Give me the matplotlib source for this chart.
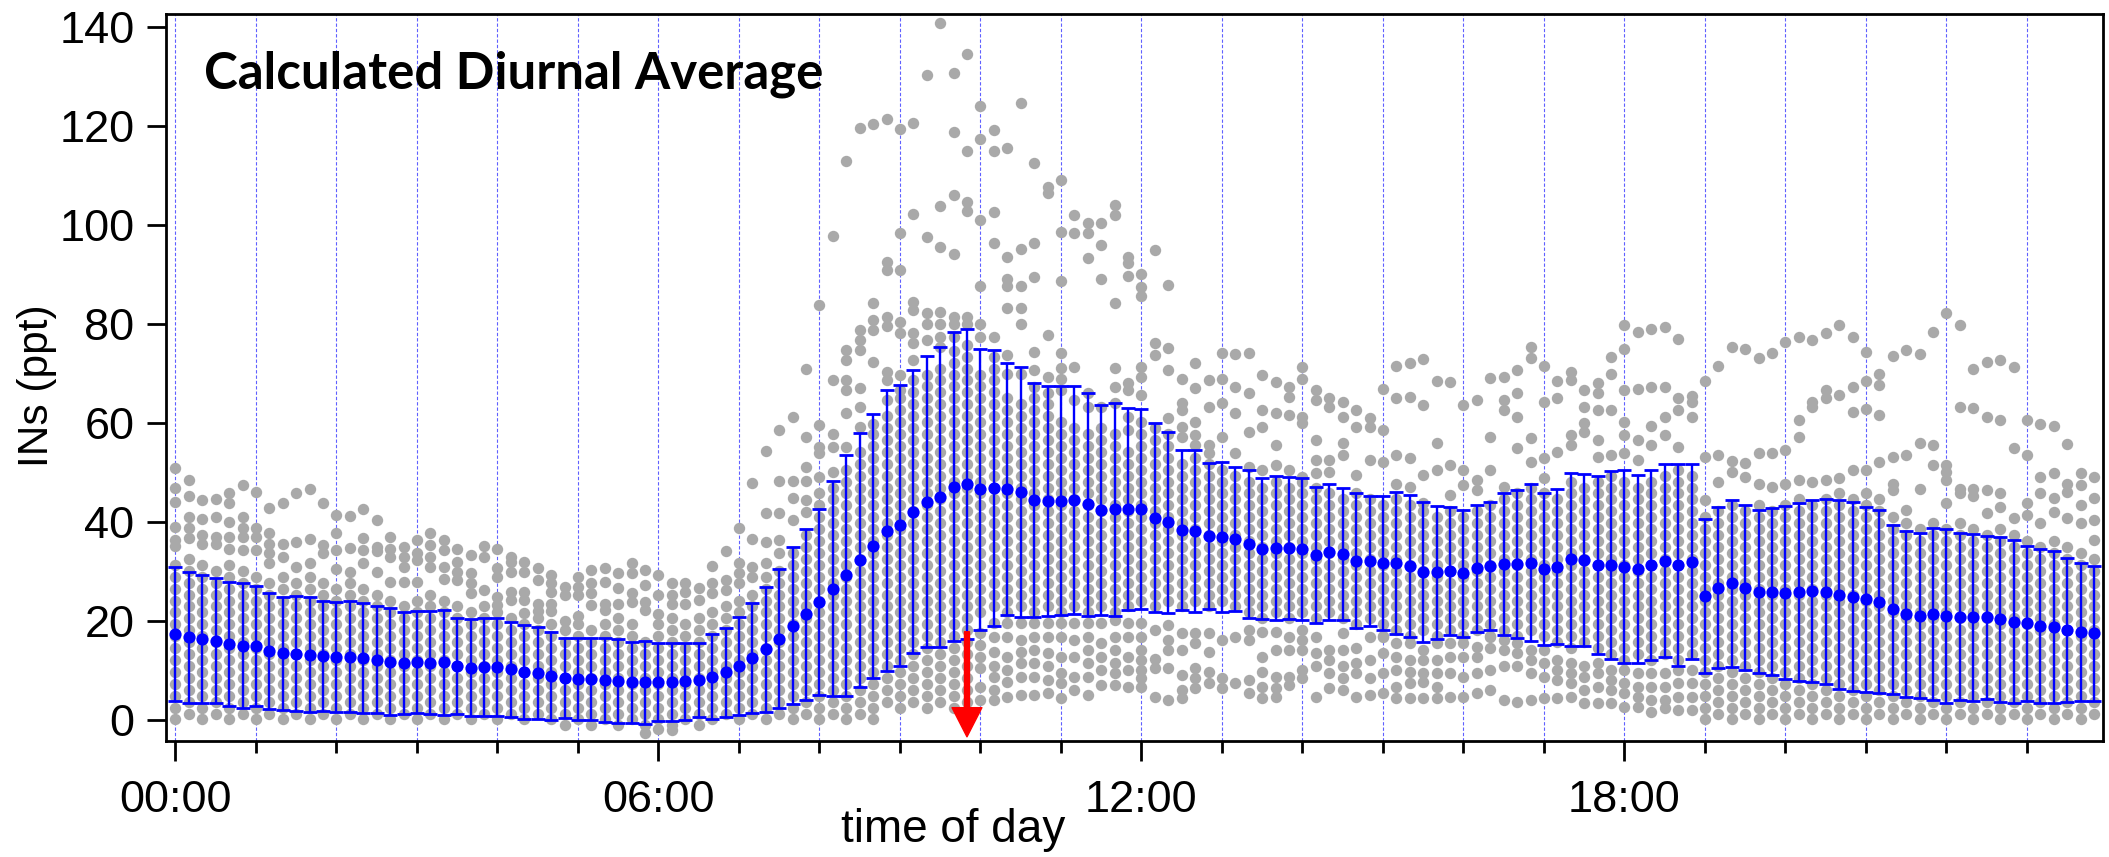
import matplotlib
matplotlib.use("Agg")
import matplotlib.pyplot as plt

# ---------------- data ----------------
bin_minutes = list(range(0, 1440, 10))          # 10-min bins of the day
hour_ticks = [0, 6, 12, 18]
hour_labels = ["00:00", "06:00", "12:00", "18:00"]
hour_grid = list(range(0, 24))

mean_ppt = [
    17.45, 16.78, 16.38, 16.05, 15.38, 15.1, 15.03, 14.09, 13.55, 13.42, 13.22, 13.01,
    12.88, 12.88, 12.61, 12.21, 11.87, 11.67, 11.8, 11.67, 11.74, 11.0, 10.66, 10.8,
    10.73, 10.32, 9.79, 9.52, 9.05, 8.51, 8.44, 8.44, 8.1, 7.97, 7.7, 7.7,
    7.7, 7.77, 7.9, 8.17, 8.84, 9.72, 11.0, 12.54, 14.36, 16.51, 19.13, 21.42,
    23.91, 26.6, 29.29, 32.38, 35.21, 38.3, 39.38, 42.14, 44.15, 45.16, 47.18, 47.72,
    46.64, 46.91, 46.64, 46.1, 44.49, 44.36, 44.36, 44.49, 43.62, 42.47, 42.61, 42.61,
    42.61, 40.93, 39.98, 38.44, 38.24, 37.23, 36.96, 36.69, 35.61, 34.67, 34.87, 34.87,
    34.61, 33.39, 34.07, 33.53, 32.25, 32.18, 31.71, 31.71, 31.17, 30.03, 29.9, 30.16,
    29.69, 30.7, 31.17, 31.58, 31.58, 31.85, 30.57, 31.04, 32.52, 32.38, 31.38, 31.38,
    31.04, 30.63, 31.38, 32.25, 31.38, 32.05, 25.12, 26.8, 27.68, 26.8, 26.0, 26.0,
    25.79, 25.93, 26.13, 26.0, 25.39, 24.99, 24.45, 23.98, 22.43, 21.49, 21.15, 21.49,
    21.09, 20.95, 20.82, 20.82, 20.41, 19.94, 19.61, 19.07, 18.8, 18.26, 17.79, 17.59]

sd_ppt = [
    13.6, 13.2, 12.9, 12.6, 12.5, 12.6, 12.2, 11.7, 11.4, 11.6, 11.6, 11.1,
    11.1, 11.2, 11.0, 10.8, 10.8, 10.3, 10.3, 10.4, 10.6, 9.6, 9.8, 9.8,
    9.9, 9.6, 9.5, 9.3, 8.9, 8.1, 8.3, 8.3, 8.5, 8.4, 8.2, 8.4,
    7.9, 7.8, 7.8, 7.5, 8.6, 9.0, 9.8, 11.1, 12.6, 14.0, 15.9, 17.2,
    18.8, 21.7, 24.3, 25.7, 26.6, 28.3, 28.3, 28.5, 29.4, 30.3, 31.2, 31.3,
    28.3, 27.8, 25.4, 25.2, 23.7, 23.2, 23.1, 23.1, 22.5, 21.2, 21.5, 20.4,
    20.2, 19.0, 18.3, 16.1, 16.3, 14.7, 15.1, 14.5, 14.9, 14.2, 14.5, 14.3,
    14.4, 13.8, 13.7, 13.3, 13.6, 13.1, 13.5, 14.3, 14.3, 14.1, 13.4, 12.9,
    12.8, 12.8, 13.0, 14.3, 14.9, 15.9, 15.3, 15.6, 17.4, 17.4, 18.0, 19.0,
    19.5, 19.0, 19.1, 19.5, 20.3, 19.7, 15.6, 16.3, 16.8, 16.7, 16.5, 16.9,
    17.5, 18.0, 18.4, 18.7, 19.0, 19.0, 18.7, 18.5, 17.0, 16.8, 16.6, 17.3,
    17.6, 16.8, 16.9, 16.5, 16.7, 16.4, 15.6, 15.5, 15.3, 14.6, 13.9, 13.6]

# levels at which the grey dots sit inside the tightly packed columns
dot_levels_a = [-1.0, 1.4, 3.8, 6.2, 8.6, 11.0, 13.4, 15.8, 18.2, 20.6, 23.0, 25.4, 27.8,
                30.2, 32.6, 35.0, 37.4, 39.8, 42.2, 44.6, 47.0, 49.4, 51.8, 54.2, 56.6,
                59.0, 61.4, 63.8, 66.2, 68.6, 71.0, 73.4, 75.8]
dot_levels_b = [0.2, 2.6, 5.0, 7.4, 9.8, 12.2, 14.6, 17.0, 19.4, 21.8, 24.2, 26.6, 29.0,
                31.4, 33.8, 36.2, 38.6, 41.0, 43.4, 45.8, 48.2, 50.6, 53.0, 55.4, 57.8,
                60.2, 62.6, 65.0, 67.4, 69.8, 72.2, 74.6, 77.0]

# extent of the packed grey column in each bin
band_lo = [
    0, 0, 0, 0, 0, 0, 0, 0, 0, 0, 0, 0, 0, 0, 0, 0, 0, 0, 0, 0, 0, 0, 0, 0,
    0, 0, 0, 0, 0, -1, -1, -1, -1, -1, -1, -1, -1, -1, -1, -1, 0, 0, 0, 0, 0, 0, 0, 0,
    0, 0, 0, 0, 0, 1.5, 1.5, 1.5, 1.5, 1.5, 1.5, 1.5, 21, 21, 21, 21, 21, 21, 21, 21, 21, 21, 21, 21,
    22, 22, 22, 22, 22, 22, 22, 22, 20, 20, 20, 20, 20, 20, 20, 20, 19, 19, 17, 17, 17, 16, 17, 17,
    17, 17, 17, 17, 17, 16, 15, 15, 14, 14, 13, 12, 12, 12, 12, 12, 12, 12, 0, 0, 0, 0, 0, 0,
    0, 0, 0, 0, 0, 0, 0, 0, 0, 0, 0, 0, 0, 0, 0, 0, 0, 0, 0, 0, 0, 0, 0, 0]
band_hi = [
    33, 34, 33, 32, 32, 31, 30, 29, 30, 29, 30, 29, 27, 29, 27, 26, 25, 24, 25, 26, 25, 24, 22, 24,
    22, 21, 20, 21, 20, 19, 20, 19, 20, 21, 20, 18, 20, 21, 20, 21, 22, 24, 25, 26, 30, 31, 35, 39,
    46, 48, 52, 56, 58, 62, 65, 70, 72, 72, 75, 76, 72, 71, 67, 66, 65, 64, 62, 61, 60, 59, 60, 56,
    62, 60, 58, 54, 54, 52, 52, 51, 50, 49, 49, 49, 49, 47, 47, 46, 46, 45, 45, 46, 45, 44, 43, 43,
    42, 43, 44, 45, 46, 47, 46, 46, 49, 49, 49, 50, 50, 49, 50, 51, 51, 51, 42, 44, 45, 44, 45, 44,
    45, 46, 45, 46, 47, 46, 47, 46, 43, 41, 40, 41, 40, 41, 40, 39, 40, 39, 37, 36, 37, 36, 35, 34]

# isolated grey dots outside the packed column, per bin
sparse_00_06 = [
    [51, 47, 44, 39, 36.4, 35.2], [48.6, 45.2, 41.1, 38.8, 36.8], [44.5, 40.6, 37.4, 35.7],
    [44.6, 41.1, 37.1, 35.7], [46, 43.8, 40.1, 37.1, 34.7], [47.5, 41.1, 38.8, 37.1, 34.4],
    [46.2, 38.8, 37.1, 34.4], [42.8, 37.8, 35.7, 33.7, 31.7], [43.8, 35.6, 33],
    [46, 36.1, 31], [46.8, 36.6, 31.7], [43.8, 35.4, 33.7],
    [41.5, 37.9, 34.4, 30.5], [41.3, 34.9, 30], [42.6, 36.8, 34.4, 31.7],
    [40.5, 35.1, 34.1, 30], [37.1, 34.7, 33, 28], [35.1, 33, 31, 28],
    [36.4, 33.7, 32.4, 28], [37.9, 35.4, 33, 31], [36.4, 34.4, 31, 28.5],
    [34.7, 32, 30, 28.3], [33.4, 29.7, 27.7, 25.7], [35.2, 33, 26.3],
    [34.7, 30.7, 29, 25, 23.3], [33, 32, 30, 26, 24.3], [32, 30, 26, 24.3, 21.6],
    [30.7, 28.3, 23.6, 22], [29.4, 27.7, 26, 23.6, 22], [27, 25.3, 20],
    [29, 27, 25.3, 21], [30.4, 27.7, 25.7, 23.3], [30.7, 28, 23.6, 22.3],
    [29.7, 26.7, 23.6], [31.7, 29.7, 25.7, 24], [30.4, 27.3, 24, 22.3, -2.6]]
sparse_06_12 = [
    [29.4, 25.3, 21.5, -1.8], [27.7, 25.3, 23.6, -2], [27.7, 26, 23.6],
    [26.7, 24.3], [31.2, 27.7, 25.7], [34.1, 28.3, 26.3],
    [38.9, 31.7, 29.7, 27.7], [48, 36.6, 31, 29], [54.4, 41.9, 36.1, 31.7],
    [58.6, 48.4, 41.9, 36.4, 33.7], [61.3, 48.4, 44.8, 40.5], [70.9, 57.3, 51.2, 48.4, 44.5, 42.1],
    [83.8, 59.6, 55.2, 53.9, 49.2], [97.8, 68.7, 57.9, 55.2, 50.2],
    [112.9, 74.8, 72.8, 68.7, 66.7, 62, 55.2],
    [119.5, 78.8, 76.8, 74.8, 67, 63.3, 59.3], [120.4, 84.3, 80.8, 78.8, 72.4, 59.9],
    [121.3, 92.6, 90.9, 81.5, 79.5, 70.4, 68.7, 64.7],
    [119.3, 98.4, 90.8, 80.5, 78.1, 69.7, 66.7], [120.6, 102.2, 84.5, 82.8, 78.1, 76.1, 72.8],
    [130.2, 97.5, 82.2, 80.1, 76.8], [140.8, 103.8, 95.5, 82.5, 80.1, 77.4, 75.4],
    [130.7, 118.8, 106, 94.1, 81.5, 80.1, 77.4], [134.4, 114.9, 104.7, 102.7, 81.5, 80.1],
    [124, 117.3, 101, 87.7, 80.1, 77.4, 17.6, 15.2, 12.9, 10.5, 6.8, 4.1],
    [119.1, 114.9, 102.6, 96.4, 77.4, 73.4, 19.6, 16.9, 13.9, 10.9, 8.8, 6.2, 4.1],
    [115.6, 93.5, 89, 87.6, 83.2, 73.7, 70, 19.6, 16.9, 12.9, 10.2, 7.8, 4.8],
    [124.5, 95.1, 87.7, 83.2, 80.1, 70, 19.6, 16.2, 13.9, 11.5, 8.8, 5.1],
    [112.4, 96.4, 89.5, 74.4, 70.7, 67.3, 19.6, 16.9, 14.2, 11.5, 8.8, 5.1],
    [107.7, 106.5, 77.8, 69.4, 66, 19.6, 16.9, 13.6, 10.9, 8.2, 5.5],
    [109.1, 98.6, 88.7, 74.1, 71.1, 69, 66.7, 19.6, 16.9, 12.9, 9.5, 7.5, 4.5],
    [101.9, 98.3, 71.4, 64.7, 19.6, 16.2, 12.9, 8.8, 6.2],
    [100.4, 98.3, 93.3, 66, 63.3, 19.6, 16.9, 14.2, 11.5, 8.8, 5.1],
    [100.4, 95.9, 89, 63.3, 19.6, 15.6, 12.9, 10.2, 7.2],
    [104, 102, 84.3, 71.1, 67.3, 64, 20.3, 16.9, 14.2, 11.5, 9.5, 7.2],
    [93.6, 92.3, 89.7, 68, 66.7, 61.3, 58.6, 19.6, 16.9, 12.9, 10.2, 6.8]]
sparse_12_18 = [
    [90.1, 87.5, 85.6, 71.4, 69.4, 65.7, 19.6, 16.9, 14.2, 12.2, 10.2, 8.5, 6.8],
    [94.9, 76.1, 73.7, 18.3, 12.5, 10.5, 4.8],
    [87.9, 75.1, 70.7, 61, 19.3, 16.2, 14.2, 10.5, 4.1],
    [69, 64, 62.6, 59.3, 57.3, 17.6, 14.2, 9.2, 6.2, 4.5],
    [72.2, 67, 60.3, 57.6, 55.6, 17.6, 15.6, 10.5, 8.5, 6.5],
    [68.8, 63.3, 55.6, 53.9, 17.6, 13.9, 9.8, 7.5],
    [74.2, 69, 64, 57.3, 16.2, 8.5, 6.5],
    [73.9, 67.2, 62, 53.9, 16.9, 7.5],
    [74.1, 66, 58.3, 51.2, 18.3, 16.2, 8.2, 5.5],
    [69.7, 62.6, 59.3, 50.5, 17.9, 12.9, 9.8, 6.8, 4.5],
    [68.2, 62, 55.6, 51.6, 17.9, 14.2, 8.8, 6.5, 4.8],
    [67.3, 65.3, 61.6, 50.5, 16.9, 14.2, 8.8, 7.2],
    [71.4, 69, 61.3, 60, 49.2, 18.3, 16.2, 14.2, 10.2, 8.5],
    [66.7, 64.7, 56.6, 52.6, 49.9, 16.9, 13.6, 10.9, 4.8],
    [65, 63.3, 52.6, 50.2, 14.2, 12.2, 9.5, 6.5],
    [64.3, 61.3, 55.9, 53.6, 17.6, 14.2, 10.9, 8.5, 6.2],
    [62.6, 59.3, 49.5, 14.6, 11.5, 9.5, 4.8],
    [61, 59.3, 52.6, 16.9, 12.2, 8.5, 5.1],
    [66.8, 58.6, 52.2, 16.9, 13.6, 9.5, 5.5],
    [71.5, 65, 53.6, 47.8, 15.6, 12.9, 10.2, 6.8, 4.5],
    [72.1, 65.3, 52.9, 47.2, 15.6, 12.2, 9.8, 7.5, 4.5],
    [72.9, 63.7, 49.5, 43.8, 14.2, 12.2, 9.5, 7.8, 4.5],
    [68.4, 55.9, 50.5, 15.6, 12.2, 9.5, 6.8, 4.5],
    [68.2, 51.6, 45.5, 15.6, 12.9, 9.5, 4.8],
    [63.7, 50.5, 47.5, 15.6, 12.9, 8.8, 4.8],
    [64.7, 48.5, 46.5, 14.9, 12.9, 9.5, 5.5],
    [69.2, 57.3, 50.5, 16.9, 14.6, 10.2, 6.2],
    [69.4, 64.7, 62.6, 47.2, 16.2, 14.2, 10.9, 4.1],
    [70.7, 66, 61.3, 54.9, 15.6, 13.6, 10.9, 3.8],
    [75.4, 73.1, 56.9, 52.2, 14.2, 12.2, 9.5, 4.1],
    [71.5, 64.3, 52.9, 48.9, 14.2, 11.5, 8.8, 4.6],
    [68.4, 65, 54.2, 12.2, 10.2, 8.2, 4.6],
    [70.4, 68.7, 57.6, 55.6, 11.5, 9.5, 7.5, 4.8],
    [66.7, 63.3, 60, 58.3, 10.9, 8.8, 6.2, 3.5],
    [68, 66, 62.6, 56.6, 53.2, 11.5, 9.5, 6.8, 3.5],
    [73.4, 70, 62.6, 53.6, 10.2, 8.2, 6.2, 3.5]]
sparse_18_24 = [
    [79.8, 74.9, 66.7, 60.3, 57.6, 53.9, 10.2, 7.5, 5.5, 2.8],
    [78.4, 66.8, 56.6, 52.6, 9.5, 6.8, 4.8, 2.8],
    [78.9, 67.2, 59.5, 55.6, 9.5, 6.8, 4.1, 1.8],
    [79.3, 67.3, 61.3, 57.6, 9.5, 6.8, 4.1, 2.5],
    [76.9, 65, 62.6, 55.2, 10.2, 7.5, 4.8, 2.1],
    [65.5, 64.3, 61.3, 10.2, 7.5, 4.8, 2.1],
    [68.4, 53.2, 44.5], [71.5, 53.6, 48.2], [75.4, 52.4, 50.2],
    [74.9, 51.9, 49.2], [73.1, 53.9, 47.8], [74.1, 53.9, 47.2],
    [76.4, 54.6, 47.8], [77.4, 60.6, 57.3, 48.5], [76.8, 64.3, 63.3, 48.2],
    [78.1, 66.7, 65, 48.5], [79.8, 65.7, 48.9], [77.4, 67.3, 62.2, 50.5],
    [74.4, 68.4, 62.8, 50.5], [70, 67.6, 61.6, 52.2], [73.5, 53.2, 47.8, 46.5],
    [74.8, 53.6, 42.5], [73.9, 55.9, 46.8], [78.4, 55.6, 51.6],
    [82.3, 51.6, 50.2, 48.5, 43.8], [79.8, 63.3, 46.8, 45.8], [70.9, 63, 46.8, 45.2],
    [72.4, 61.3, 46.5, 41.8], [72.8, 60.6, 45.8, 43.1], [71.3, 54.9, 40.8],
    [60.6, 53.6, 43.8, 41.5], [59.8, 49.2, 45.8, 39.8], [59.4, 49.9, 44.8, 42],
    [55.8, 47.8, 46.2, 40.8], [49.9, 47.5, 43.5, 39.8], [49.2, 44.8, 40.5, 36.4]]

arrow_hour, arrow_top, arrow_tip = 9.833, 17.9, -3.3

# ---------------- figure ----------------
W, H = 2109, 857
plt.rcParams["font.family"] = ["Liberation Sans", "DejaVu Sans"]
fig = plt.figure(figsize=(W / 100, H / 100), dpi=100)
ax = fig.add_axes([166 / W, (H - 741) / H, (2103 - 166) / W, (741 - 14) / H])

hours = [m / 60 for m in bin_minutes]
sparse = sparse_00_06 + sparse_06_12 + sparse_12_18 + sparse_18_24

gx, gy = [], []
for i, h in enumerate(hours):
    levels = dot_levels_b if i % 2 == 0 else dot_levels_a
    vals = list(sparse[i]) + [v for v in levels if band_lo[i] <= v <= band_hi[i]]
    gx += [h] * len(vals)
    gy += vals

for hg in hour_grid:
    ax.axvline(hg, color="#6060ff", lw=0.8, ls=(0, (3, 1.8)), zorder=1)

ax.plot(gx, gy, "o", color="#a9a9a9", ms=8.2, mec="none", zorder=2)
ax.errorbar(hours, mean_ppt, yerr=sd_ppt, fmt="o", color="#0000ff", ms=8.8,
            mec="none", elinewidth=1.7, capsize=5, capthick=2.0, zorder=4)

ax.annotate("", xy=(arrow_hour, arrow_tip), xytext=(arrow_hour, arrow_top),
            arrowprops=dict(facecolor="#ff0000", edgecolor="#ff0000", width=3.6,
                            headwidth=21.5, headlength=21.0, shrink=0.0),
            zorder=6)

ax.set_xlim(-0.117, 23.945)
ax.set_ylim(-4.14, 142.55)
ax.set_xticks(hour_ticks)
ax.set_xticklabels(hour_labels)
ax.set_xticks([h for h in hour_grid if h not in hour_ticks], minor=True)
ax.set_yticks(list(range(0, 141, 20)))

ax.tick_params(axis="x", which="major", direction="out", length=14.4, width=2.0,
               labelsize=32.5, pad=13.5)
ax.tick_params(axis="x", which="minor", direction="out", length=8.6, width=2.0)
ax.tick_params(axis="y", which="major", direction="out", length=13.7, width=2.0,
               labelsize=32.5, pad=9)
for sp in ax.spines.values():
    sp.set_linewidth(2.0)

fig.text(37 / W, 1 - 386 / H, "INs (ppt)", rotation=90, ha="center", va="center",
         fontsize=30.5)
fig.text(840.6 / W, 1 - 842 / H, "time of day", ha="left", va="baseline",
         fontsize=33)

title = fig.text(204 / W, 1 - 88 / H, "Calculated Diurnal Average",
                 fontfamily=["Lato", "DejaVu Sans"], fontweight="bold",
                 fontsize=36, ha="left", va="baseline")
fig.canvas.draw()
tw = title.get_window_extent().width
title.set_fontsize(36 * 619 / tw)

fig.savefig("out.png", dpi=100)
